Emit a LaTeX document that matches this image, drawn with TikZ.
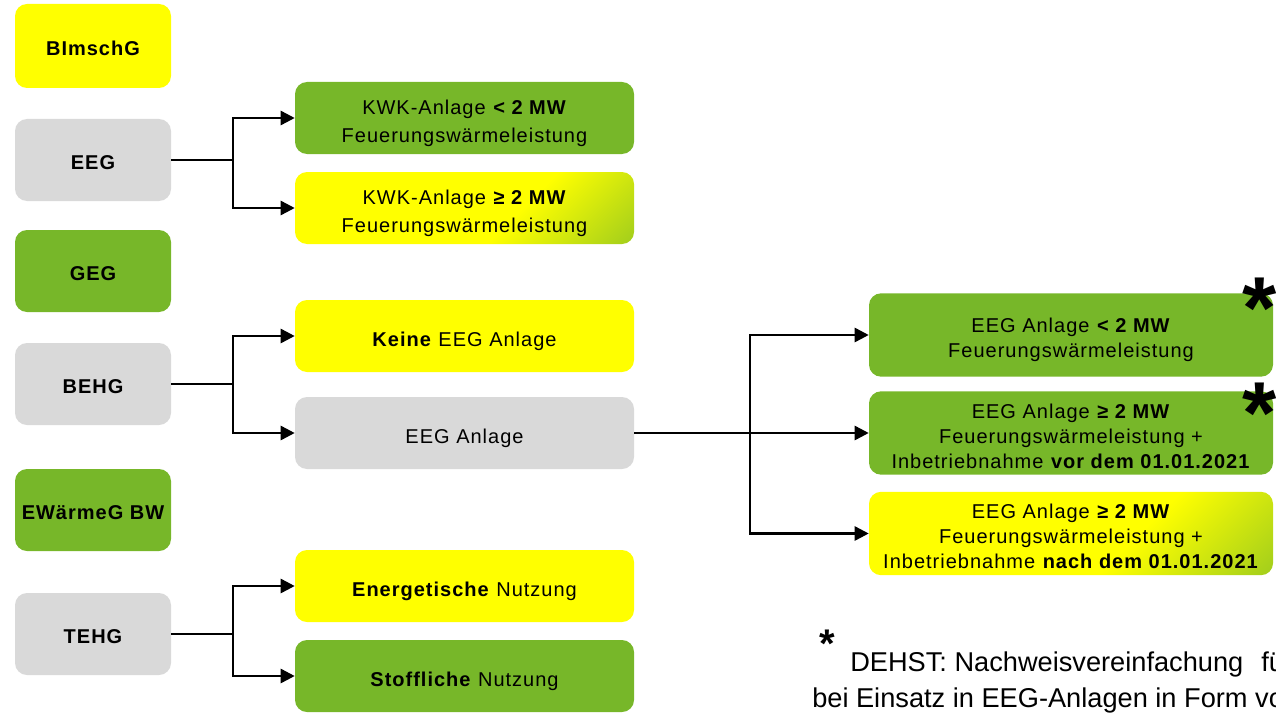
\documentclass[tikz,border=0pt]{standalone}
\usepackage{fontspec}
\setmainfont{Liberation Sans}
\newfontfamily\boxfont{Liberation Sans}[LetterSpace=5]
\usetikzlibrary{arrows.meta}
\definecolor{lgreen}{RGB}{119,183,41}
\definecolor{lyellow}{RGB}{255,255,0}
\definecolor{lgray}{RGB}{217,217,217}
\pgfdeclarehorizontalshading{ygshade}{100bp}{color(0bp)=(lyellow); color(60bp)=(lyellow); color(97bp)=(lgreen); color(100bp)=(lgreen)}
\begin{document}
\begin{tikzpicture}[x=0.75pt,y=-0.75pt,
  box/.style={rounded corners=9pt, inner sep=0pt, align=center, text=black},
  lbox/.style={box, minimum width=117pt, minimum height=61.5pt, text height=14.8pt, font=\boxfont\fontsize{15}{18}\selectfont\bfseries},
  mbox/.style={box, minimum width=254.25pt, minimum height=54pt, font=\boxfont\fontsize{15}{21}\selectfont},
  mone/.style={mbox, text height=18.2pt},
  mtwo/.style={mbox, text height=39.2pt},
  rbox/.style={box, minimum width=303pt, minimum height=62.5pt, font=\boxfont\fontsize{15}{18.7}\selectfont},
  rtwo/.style={rbox, text height=37pt},
  rthree/.style={rbox, text height=52.7pt},
  gfill/.style={fill=lgreen},
  yfill/.style={fill=lyellow},
  grfill/.style={fill=lgray},
  ygfill/.style={shade, shading=ygshade, shading angle=-45},
  conn/.style={line width=1.9pt, draw=black},
  arr/.style={conn, -{Triangle[length=10.5pt, width=10.5pt]}},
  bigstar/.style={anchor=base, inner sep=0pt, font=\fontsize{66}{66}\selectfont\bfseries},
  note/.style={anchor=base west, inner sep=0pt, font=\fontsize{20.4}{24}\selectfont}
]
\useasboundingbox (0,0) rectangle (1276,713);
\clip (0,0) rectangle (1276,713);

% left column
\node[lbox, yfill, minimum height=63pt] (bim) at (93,46) {BImschG};
\node[lbox, grfill] (eeg) at (93,160) {EEG};
\node[lbox, gfill] (geg) at (93,271) {GEG};
\node[lbox, grfill] (behg) at (93,384) {BEHG};
\node[lbox, gfill] (ewg) at (93,510) {EWärmeG BW};
\node[lbox, grfill] (tehg) at (93,634) {TEHG};

% middle column
\node[mtwo, gfill] (kwk1) at (464.5,118) {KWK-Anlage \textbf{< 2 MW}\\Feuerungswärmeleistung};
\node[mtwo, ygfill] (kwk2) at (464.5,208) {KWK-Anlage \textbf{≥ 2 MW}\\Feuerungswärmeleistung};
\node[mone, yfill] (keine) at (464.5,336) {\textbf{Keine} EEG Anlage};
\node[mone, grfill] (eega) at (464.5,433) {EEG Anlage};
\node[mone, yfill] (energ) at (464.5,586) {\textbf{Energetische} Nutzung};
\node[mone, gfill] (stoff) at (464.5,676) {\textbf{Stoffliche} Nutzung};

% right column
\node[rtwo, gfill] (r1) at (1071,335) {EEG Anlage \textbf{< 2 MW}\\Feuerungswärmeleistung};
\node[rthree, gfill] (r2) at (1071,433) {EEG Anlage \textbf{≥ 2 MW}\\Feuerungswärmeleistung +\\Inbetriebnahme \textbf{vor dem 01.01.2021}};
\node[rthree, ygfill] (r3) at (1071,533.5) {EEG Anlage \textbf{≥ 2 MW}\\Feuerungswärmeleistung +\\Inbetriebnahme \textbf{nach dem 01.01.2021}};

% junctions
\coordinate (j1) at (233,160);
\coordinate (j2) at (233,384);
\coordinate (j3) at (233,634);
\coordinate (j4) at (750,433);

\draw[conn] (eeg) -- (j1);
\draw[arr] (j1) |- (kwk1);
\draw[arr] (j1) |- (kwk2);

\draw[conn] (behg) -- (j2);
\draw[arr] (j2) |- (keine);
\draw[arr] (j2) |- (eega);

\draw[conn] (tehg) -- (j3);
\draw[arr] (j3) |- (energ);
\draw[arr] (j3) |- (stoff);

\draw[conn] (eega) -- (j4);
\draw[arr] (j4) |- (r1);
\draw[arr] (j4) -- (r2);
\draw[arr] (j4) |- (r3);

% asterisks
\node[bigstar] (s1) at (1260,338) {*};
\node[bigstar] (s2) at (1260,443) {*};

% footnote
\node[anchor=base, inner sep=0pt, font=\fontsize{30}{30}\selectfont\bfseries] (fs) at (827,657) {*};
\node[note] (n1) at (850,671) {DEHST: Nachweisvereinfachung};
\node[note] (n1b) at (1261,671) {für};
\node[note] (n2) at (812,707) {bei Einsatz in EEG-Anlagen in Form von};
\end{tikzpicture}
\end{document}
